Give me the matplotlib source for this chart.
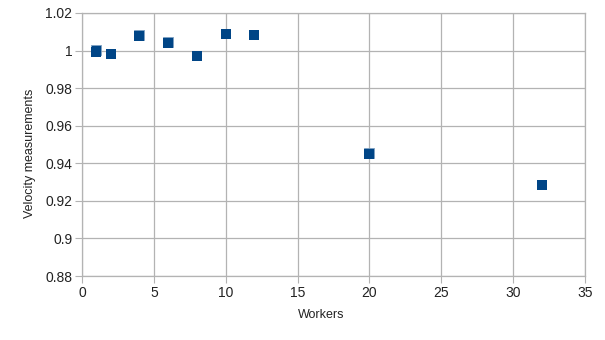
import matplotlib
matplotlib.use("Agg")
import matplotlib.pyplot as plt

# === Data ===
workers = [1, 2, 4, 6, 8, 10, 12, 20, 32]
velocity = [0.9995, 0.9983, 1.0078, 1.0039, 0.9973, 1.0088, 1.0085, 0.9450, 0.9284]

# second run, overlapping the first at a few points
workers_b = [1, 4, 6, 20]
velocity_b = [1.0001, 1.0081, 1.0043, 0.9454]

xticks = [0, 5, 10, 15, 20, 25, 30, 35]
yticks = [0.88, 0.9, 0.92, 0.94, 0.96, 0.98, 1.0, 1.02]
ytick_labels = ["0.88", "0.9", "0.92", "0.94", "0.96", "0.98", "1", "1.02"]

plt.rcParams['font.family'] = ['Liberation Sans', 'DejaVu Sans']
grid_col = "#b3b3b3"
blue = "#004586"

fig = plt.figure(figsize=(6.05, 3.4), dpi=100)
ax = fig.add_axes([0.1355, 0.1882, 0.8315, 0.7736])

ax.plot(workers_b, velocity_b, linestyle="none", marker="s", markersize=7.6,
        color=blue, markeredgecolor="#7fa2c3", markeredgewidth=0.6, zorder=3)
ax.plot(workers, velocity, linestyle="none", marker="s", markersize=7.6,
        color=blue, markeredgewidth=0, zorder=4)

ax.set_xlim(0, 35)
ax.set_ylim(0.88, 1.02)
ax.set_xticks(xticks)
ax.set_yticks(yticks)
ax.set_yticklabels(ytick_labels)
ax.grid(True, color=grid_col, linewidth=0.9)
ax.set_axisbelow(True)
for s in ax.spines.values():
    s.set_color(grid_col)
    s.set_linewidth(0.9)
ax.tick_params(axis="both", direction="out", length=5, color=grid_col,
               labelsize=10, labelcolor="#222222", pad=2)

ax.set_xlabel("Workers", fontsize=9, color="#222222")
ax.set_ylabel("Velocity measurements", fontsize=9, color="#222222")
ax.xaxis.set_label_coords(0.475, -0.125)
ax.yaxis.set_label_coords(-0.091, 0.468)

fig.savefig("out.png", dpi=100)
